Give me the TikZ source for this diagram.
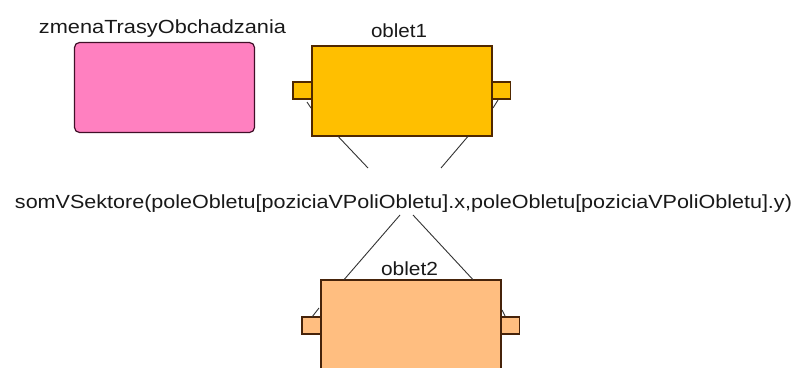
\documentclass[tikz,border=0pt]{standalone}
\usepackage{fontspec}
\setmainfont{Liberation Sans}
\usetikzlibrary{shapes.misc}
\definecolor{pinkfill}{RGB}{255,128,192}
\definecolor{pinkedge}{RGB}{64,16,40}
\definecolor{ambfill}{RGB}{255,191,0}
\definecolor{ambedge}{RGB}{80,40,0}
\definecolor{peachfill}{RGB}{255,190,128}
\definecolor{peachedge}{RGB}{70,35,10}
\begin{document}
\begin{tikzpicture}[x=1pt,y=-1pt,
  lbl/.style={anchor=base, inner sep=0pt, font=\fontsize{19}{19}\selectfont, text=black!90},
  statebox/.style={minimum width=180pt, minimum height=90pt, inner sep=0pt, line width=1.2pt},
  chamf/.style={chamfered rectangle, chamfered rectangle xsep=3pt, chamfered rectangle ysep=3pt},
  tabbox/.style={rectangle, minimum width=22pt, minimum height=17pt, inner sep=0pt, line width=1.2pt},
  wire/.style={line width=0.9pt, draw=black!80}]
\useasboundingbox (0,0) rectangle (797,367);
\clip (0,0) rectangle (797,367);
\fill[white] (0,0) rectangle (797,367);

% plain state
\node[statebox, rounded corners=5pt, draw=pinkedge, fill=pinkfill] (zmena) at (164.5,87.5) {};
\node[lbl] (zmenaLbl) at (162.5,33) {\resizebox{247pt}{\height}{zmenaTrasyObchadzania}};

% first flight state with its side ports
\node[tabbox, draw=ambedge, fill=ambfill] (o1l) at (304,90.5) {};
\node[tabbox, draw=ambedge, fill=ambfill] (o1r) at (499.5,90.5) {};
\node[statebox, chamf, draw=ambedge, fill=ambfill] (oblet1) at (402,91) {};
\node[lbl] (oblet1Lbl) at (399,37) {\resizebox{56pt}{\height}{oblet1}};

% second flight state with its side ports
\node[tabbox, draw=peachedge, fill=peachfill] (o2l) at (313,325.5) {};
\node[tabbox, draw=peachedge, fill=peachfill] (o2r) at (508.5,325.5) {};
\node[statebox, chamf, draw=peachedge, fill=peachfill] (oblet2) at (411,325) {};
\node[lbl] (oblet2Lbl) at (409.5,275) {\resizebox{57pt}{\height}{oblet2}};

% guard of the transition
\node[lbl] (guard) at (403.5,208) {\resizebox{777pt}{\height}{somVSektore(poleObletu[poziciaVPoliObletu].x,poleObletu[poziciaVPoliObletu].y)}};

% transition strokes around the guard
\coordinate (g1a) at (368,168);
\coordinate (g1b) at (441,168);
\coordinate (g2a) at (400,215);
\coordinate (g2b) at (413,215);
\draw[wire] ([xshift=26pt]oblet1.south west) -- (g1a);
\draw[wire] ([xshift=-24pt]oblet1.south east) -- (g1b);
\draw[wire] ([xshift=23pt]oblet2.north west) -- (g2a);
\draw[wire] ([xshift=-28pt]oblet2.north east) -- (g2b);

% small ticks below and above the ports
\draw[wire] (307,102) -- (311,108);
\draw[wire] (498,100) -- (493,108);
\draw[wire] (312,317) -- (319,308);
\draw[wire] (502,310) -- (505,316);
\end{tikzpicture}
\end{document}
